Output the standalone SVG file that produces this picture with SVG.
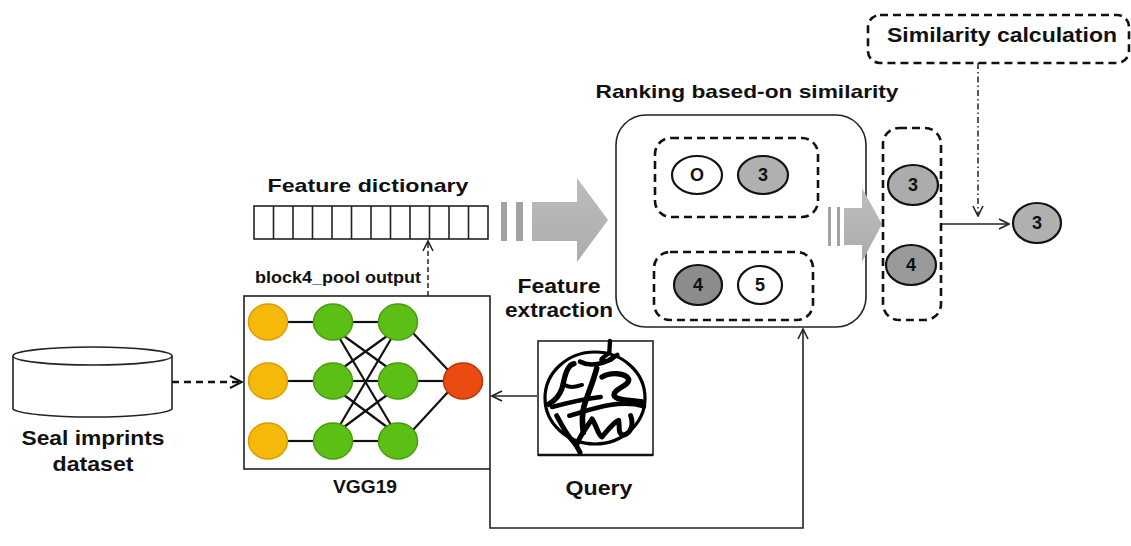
<svg xmlns="http://www.w3.org/2000/svg" width="1131" height="546" viewBox="0 0 1131 546">
  <style>
    .lbl { font-family: "Liberation Sans", Arial, sans-serif; font-weight: bold; fill: #111; }
    .num { font-family: "Liberation Sans", Arial, sans-serif; font-weight: bold; font-size: 18px; fill: #111; text-anchor: middle; }
    .box { fill: #fff; stroke: #222; stroke-width: 1.6; }
    .dash { fill: none; stroke: #111; stroke-width: 2.6; stroke-dasharray: 8 5; }
    .wire { fill: none; stroke: #222; stroke-width: 1.6; }
    .edge { stroke: #111; stroke-width: 2.2; }
    .yellow { fill: #f6b90a; stroke: #d89d05; stroke-width: 1.5; }
    .green { fill: #5cbf16; stroke: #4a9c10; stroke-width: 1.5; }
    .red { fill: #eb4a10; stroke: #b8360a; stroke-width: 1.5; }
    .oval { stroke: #111; stroke-width: 2.2; }
    .ink { fill: none; stroke: #000; stroke-linecap: round; stroke-linejoin: round; }
    .bar { fill: #a2a2a2; }
  </style>
  <defs>
    <marker id="open" viewBox="0 0 12 12" refX="11" refY="6" markerWidth="12" markerHeight="12" markerUnits="userSpaceOnUse" orient="auto">
      <path d="M1,1 L11,6 L1,11" fill="none" stroke="#222" stroke-width="1.6"/>
    </marker>
    <marker id="openBig" viewBox="0 0 14 14" refX="13" refY="7" markerWidth="14" markerHeight="14" markerUnits="userSpaceOnUse" orient="auto">
      <path d="M1,1 L13,7 L1,13" fill="none" stroke="#111" stroke-width="2"/>
    </marker>
    <linearGradient id="grayFill" x1="0" y1="0" x2="0" y2="1">
      <stop offset="0" stop-color="#bdbdbd"/>
      <stop offset="1" stop-color="#acacac"/>
    </linearGradient>
  </defs>

  <rect width="1131" height="546" fill="#fff"/>

  <!-- Dataset cylinder -->
  <g id="dataset">
    <path class="box" d="M13,356 L13,409 A80,9 0 0 0 172,409 L172,356"/>
    <ellipse class="box" cx="92.5" cy="356" rx="79.5" ry="9"/>
    <text class="lbl" x="93" y="445" font-size="21" text-anchor="middle" textLength="143" lengthAdjust="spacingAndGlyphs">Seal imprints</text>
    <text class="lbl" x="93" y="471" font-size="21" text-anchor="middle" textLength="81" lengthAdjust="spacingAndGlyphs">dataset</text>
  </g>

  <!-- VGG19 network -->
  <g id="vgg19">
    <rect class="box" x="244" y="296" width="246" height="173"/>
    <g class="edge">
      <line x1="287" y1="322" x2="314" y2="322"/>
      <line x1="287" y1="381" x2="314" y2="381"/>
      <line x1="287" y1="441" x2="314" y2="441"/>
      <line x1="352" y1="322" x2="379" y2="322"/>
      <line x1="352" y1="381" x2="379" y2="381"/>
      <line x1="352" y1="441" x2="379" y2="441"/>
      <line x1="344" y1="336" x2="387" y2="367"/>
      <line x1="340" y1="339" x2="391" y2="425"/>
      <line x1="344" y1="367" x2="387" y2="336"/>
      <line x1="344" y1="395" x2="387" y2="427"/>
      <line x1="340" y1="425" x2="391" y2="339"/>
      <line x1="344" y1="427" x2="387" y2="395"/>
      <line x1="413" y1="333" x2="448" y2="370"/>
      <line x1="417" y1="381" x2="444" y2="381"/>
      <line x1="413" y1="430" x2="448" y2="392"/>
    </g>
    <ellipse class="yellow" cx="268" cy="322" rx="19.5" ry="18"/>
    <ellipse class="yellow" cx="268" cy="381" rx="19.5" ry="18"/>
    <ellipse class="yellow" cx="268" cy="441" rx="19.5" ry="18"/>
    <ellipse class="green" cx="333" cy="322" rx="19.5" ry="18"/>
    <ellipse class="green" cx="333" cy="381" rx="19.5" ry="18"/>
    <ellipse class="green" cx="333" cy="441" rx="19.5" ry="18"/>
    <ellipse class="green" cx="398" cy="322" rx="19.5" ry="18"/>
    <ellipse class="green" cx="398" cy="381" rx="19.5" ry="18"/>
    <ellipse class="green" cx="398" cy="441" rx="19.5" ry="18"/>
    <ellipse class="red" cx="463" cy="381" rx="19.5" ry="18"/>
    <text class="lbl" x="365" y="493" font-size="18" text-anchor="middle" textLength="64" lengthAdjust="spacingAndGlyphs">VGG19</text>
  </g>

  <!-- Feature dictionary vector -->
  <g id="feature-dictionary">
    <rect class="box" x="254" y="206" width="234" height="33"/>
    <g class="wire">
      <line x1="273.5" y1="206" x2="273.5" y2="239"/>
      <line x1="293" y1="206" x2="293" y2="239"/>
      <line x1="312.5" y1="206" x2="312.5" y2="239"/>
      <line x1="332" y1="206" x2="332" y2="239"/>
      <line x1="351.5" y1="206" x2="351.5" y2="239"/>
      <line x1="371" y1="206" x2="371" y2="239"/>
      <line x1="390.5" y1="206" x2="390.5" y2="239"/>
      <line x1="410" y1="206" x2="410" y2="239"/>
      <line x1="429.5" y1="206" x2="429.5" y2="239"/>
      <line x1="449" y1="206" x2="449" y2="239"/>
      <line x1="468.5" y1="206" x2="468.5" y2="239"/>
    </g>
    <text class="lbl" x="368" y="192" font-size="19" text-anchor="middle" textLength="201" lengthAdjust="spacingAndGlyphs">Feature dictionary</text>
    <text class="lbl" x="255" y="283" font-size="17" textLength="166" lengthAdjust="spacingAndGlyphs">block4_pool output</text>
  </g>

  <!-- Query seal image -->
  <g id="query">
    <rect class="box" x="538" y="341" width="115" height="114"/>
    <line x1="538" y1="455" x2="653" y2="455" stroke="#111" stroke-width="2.5"/>
    <ellipse cx="595" cy="398" rx="50" ry="46" fill="none" stroke="#000" stroke-width="3.2"/>
    <g transform="translate(530,335) scale(0.3333)">
      <path class="ink" stroke-width="13" d="M240,18 L238,52 C230,62 218,66 214,74 C226,82 246,78 250,64"/>
      <path class="ink" stroke-width="14" d="M150,80 C172,92 204,90 236,76 L262,60"/>
      <path class="ink" stroke-width="16" d="M132,86 C108,92 104,130 96,160 C88,184 72,198 56,208"/>
      <path class="ink" stroke-width="17" d="M200,100 C190,140 172,180 162,214 C156,236 156,262 160,292"/>
      <path class="ink" stroke-width="14" d="M66,216 C118,202 160,192 212,186"/>
      <path class="ink" stroke-width="16" d="M216,126 C242,110 286,114 296,132 C300,152 252,160 252,180 C256,196 300,196 334,200"/>
      <path class="ink" stroke-width="14" d="M118,242 C160,230 200,216 240,210 C272,205 302,202 342,214"/>
      <path class="ink" stroke-width="15" d="M140,330 C150,300 174,272 186,252 C200,272 204,300 216,306 C236,282 250,262 266,256 C270,276 262,300 282,300 C302,294 312,270 302,242"/>
      <path class="ink" stroke-width="15" d="M80,242 C96,272 110,300 130,320 C140,332 146,344 150,352"/>
      <path class="ink" stroke-width="12" d="M104,150 C122,160 140,156 156,150"/>
    </g>
    <text class="lbl" x="599" y="495" font-size="20" text-anchor="middle" textLength="67" lengthAdjust="spacingAndGlyphs">Query</text>
  </g>

  <!-- Feature extraction arrow -->
  <g id="feature-extraction">
    <rect class="bar" x="501" y="202" width="6" height="39"/>
    <rect class="bar" x="516" y="202" width="7" height="39"/>
    <path fill="url(#grayFill)" d="M532,202 L577,202 L577,178 L608,220 L577,262 L577,241 L532,241 Z"/>
    <text class="lbl" x="559" y="293" font-size="20" text-anchor="middle" textLength="83" lengthAdjust="spacingAndGlyphs">Feature</text>
    <text class="lbl" x="559" y="317" font-size="20" text-anchor="middle" textLength="108" lengthAdjust="spacingAndGlyphs">extraction</text>
  </g>

  <!-- Ranking container -->
  <g id="ranking">
    <rect class="box" x="616" y="115" width="250" height="212" rx="30" ry="30"/>
    <text class="lbl" x="747" y="98" font-size="19" text-anchor="middle" textLength="303" lengthAdjust="spacingAndGlyphs">Ranking based-on similarity</text>
    <rect class="dash" x="655" y="138" width="163" height="79" rx="16" ry="16"/>
    <ellipse class="oval" cx="697" cy="175" rx="25" ry="19" fill="#fff"/>
    <text class="num" x="697" y="181">O</text>
    <ellipse class="oval" cx="763" cy="175" rx="25" ry="19" fill="#b0b0b0"/>
    <text class="num" x="763" y="181">3</text>
    <rect class="dash" x="654" y="252" width="159" height="68" rx="16" ry="16"/>
    <ellipse class="oval" cx="698" cy="285" rx="24" ry="20" fill="#8c8c8c"/>
    <text class="num" x="698" y="291">4</text>
    <ellipse class="oval" cx="760" cy="285" rx="22" ry="19" fill="#fff"/>
    <text class="num" x="760" y="291">5</text>
  </g>

  <!-- Merge arrow towards the ranked column -->
  <g id="merge-arrow">
    <rect class="bar" x="828" y="207" width="3" height="39"/>
    <rect class="bar" x="837" y="207" width="3" height="39"/>
    <path fill="url(#grayFill)" d="M844,208 L862,208 L862,188 L882,224 L862,262 L862,245 L844,245 Z"/>
  </g>

  <!-- Ranked column -->
  <g id="ranked">
    <rect class="dash" x="883" y="128" width="58" height="192" rx="16" ry="16"/>
    <ellipse class="oval" cx="913" cy="185" rx="25" ry="20" fill="#acacac"/>
    <text class="num" x="913" y="191">3</text>
    <ellipse class="oval" cx="911" cy="265" rx="25" ry="20" fill="#9a9a9a"/>
    <text class="num" x="911" y="271">4</text>
  </g>

  <!-- Similarity calculation -->
  <g id="similarity">
    <rect class="dash" x="868" y="15" width="261" height="48" rx="12" ry="12"/>
    <text class="lbl" x="1002" y="42" font-size="21" text-anchor="middle" textLength="230" lengthAdjust="spacingAndGlyphs">Similarity calculation</text>
  </g>

  <!-- Result -->
  <g id="result">
    <ellipse class="oval" cx="1037" cy="223" rx="24" ry="20" fill="#b0b0b0"/>
    <text class="num" x="1037" y="229">3</text>
  </g>

  <!-- Connectors -->
  <g id="connectors">
    <line x1="172" y1="382" x2="242" y2="382" stroke="#111" stroke-width="2.6" stroke-dasharray="7 5" marker-end="url(#openBig)"/>
    <line x1="428" y1="296" x2="428" y2="241" stroke="#222" stroke-width="1.5" stroke-dasharray="5 3" marker-end="url(#open)"/>
    <line x1="537" y1="396" x2="492" y2="396" class="wire" marker-end="url(#open)"/>
    <path class="wire" d="M490,469 L490,528 L803,528 L803,329" marker-end="url(#open)"/>
    <line x1="941" y1="224" x2="1009" y2="224" class="wire" marker-end="url(#open)"/>
    <line x1="978" y1="63" x2="978" y2="216" stroke="#222" stroke-width="1.5" stroke-dasharray="6 3 1.5 3" marker-end="url(#open)"/>
  </g>
</svg>
